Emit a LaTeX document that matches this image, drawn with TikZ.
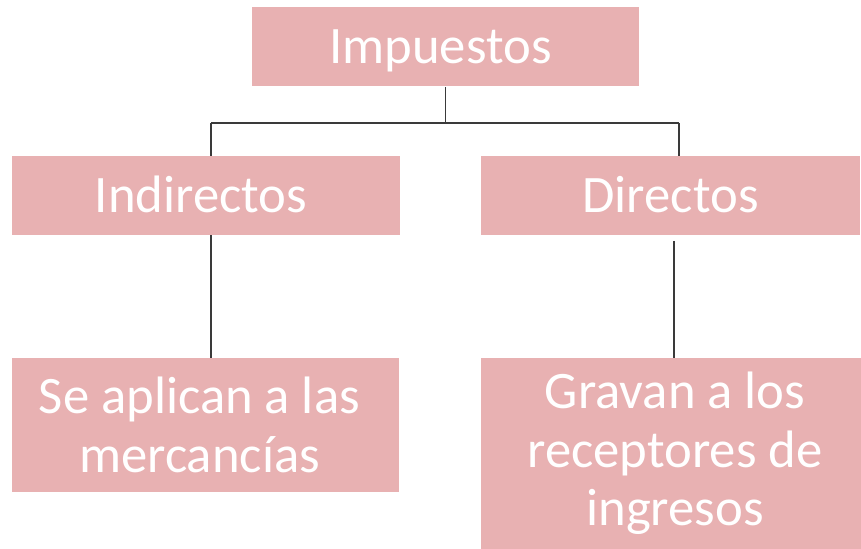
\documentclass[tikz,border=0pt]{standalone}
\usepackage{fontspec}
\setmainfont{Carlito}
\definecolor{boxpink}{HTML}{E8B1B2}
\definecolor{linegray}{HTML}{3A3A3A}
\newcommand{\padr}[1]{\hspace*{#1}}
\begin{document}
\begin{tikzpicture}[x=0.75pt,y=-0.75pt,
  box/.style={fill=boxpink,draw=none,inner sep=0pt,text=white,align=center,
    font=\fontsize{39.5}{44}\selectfont},
  oneline/.style={text height=25.4pt,text depth=0pt},
  conn/.style={draw=linegray,line width=0.9pt}]
\useasboundingbox (0,0) rectangle (861,549);
\node[box,oneline,minimum width=387*0.75pt,minimum height=79*0.75pt] (imp) at (445.5,47) {Impuestos\padr{7.5pt}};
\node[box,oneline,minimum width=388*0.75pt,minimum height=79*0.75pt] (ind) at (206,195.5) {Indirectos\padr{7.5pt}};
\node[box,oneline,minimum width=379*0.75pt,minimum height=79*0.75pt] (dir) at (670.5,195.5) {Directos};
\node[box,minimum width=387*0.75pt,minimum height=134*0.75pt] (sea) at (205.5,425) {Se aplican a las\padr{9pt}\\mercancías\padr{9pt}};
\node[box,minimum width=380*0.75pt,minimum height=191*0.75pt] (gra) at (671,453.5) {\padr{6pt}Gravan a los\\\padr{6pt}receptores de\\\padr{6pt}ingresos};
\coordinate (jl) at (211,123);
\coordinate (jr) at (679,123);
\coordinate (dl) at (674,241);
\draw[conn] (imp.south) -- (imp.south |- jl);
\draw[conn] (jl) -- (jr);
\draw[conn] (jl) -- (jl |- ind.north);
\draw[conn] (jr) -- (jr |- dir.north);
\draw[conn] (jl |- ind.south) -- (jl |- sea.north);
\draw[conn] (dl) -- (dl |- gra.north);
\end{tikzpicture}
\end{document}
